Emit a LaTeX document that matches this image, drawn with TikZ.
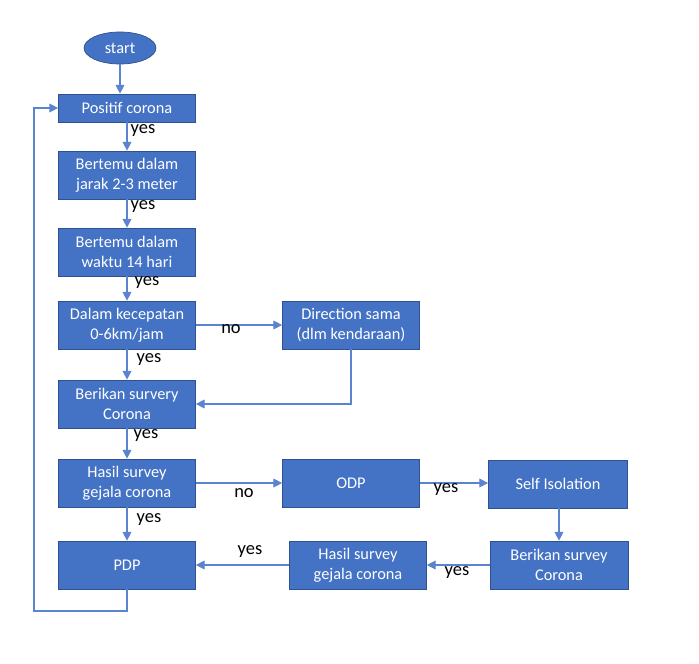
\documentclass[tikz,border=0pt]{standalone}
\usepackage{fontspec}
\setmainfont{Carlito}
\usetikzlibrary{arrows.meta, shapes.geometric}
\definecolor{boxblue}{HTML}{4472C4}
\definecolor{boxedge}{HTML}{2F528F}
\definecolor{lineblue}{HTML}{5B84D0}
\begin{document}
\begin{tikzpicture}[
                x = 0.02cm, y = -0.02cm,
                box/.style = {draw = boxedge, fill = boxblue, text = white, font = \fontsize{9.3}{11.3}\selectfont,
                              align = center, minimum width = 2.74cm, minimum height = 0.96cm, inner sep = 0mm},
                term/.style = {ellipse, draw = boxedge, fill = boxblue, text = white, font = \fontsize{9.3}{11}\selectfont,
                               minimum width = 1.44cm, minimum height = 0.64cm, inner sep = 0mm},
                lbl/.style = {font = \fontsize{10.5}{12}\selectfont, inner sep = 0mm},
                arr/.style = {draw = lineblue, semithick, -{Triangle[width = 5pt, length = 5pt]}},
            ]
            \path[use as bounding box, fill = white] (0, 0) rectangle (699, 663);

            \node (start) at (120, 48) [term] {start};
            \node (pos) at (127, 108) [box, minimum height = 0.56cm] {Positif corona};
            \node (jarak) at (127, 175) [box] {Bertemu dalam\\jarak 2-3 meter};
            \node (waktu) at (127, 252) [box] {Bertemu dalam\\waktu 14 hari};
            \node (cepat) at (127, 325) [box] {Dalam kecepatan\\0-6km/jam};
            \node (dir) at (351, 325) [box] {Direction sama\\(dlm kendaraan)};
            \node (surv1) at (127, 404) [box] {Berikan survery\\Corona};
            \node (hasil1) at (127, 483) [box] {Hasil survey\\gejala corona};
            \node (odp) at (351, 483) [box] {ODP};
            \node (iso) at (558, 484) [box, minimum width = 2.78cm] {Self Isolation};
            \node (surv2) at (559, 565) [box, minimum width = 2.76cm] {Berikan survey\\Corona};
            \node (hasil2) at (358, 565) [box] {Hasil survey\\gejala corona};
            \node (pdp) at (127, 565) [box] {PDP};

            \coordinate (loop) at (34, 611);

            \path[arr] (start) -- (start |- pos.north);
            \path[arr] (pos) -- (jarak);
            \path[arr] (jarak) -- (waktu);
            \path[arr] (waktu) -- (cepat);
            \path[arr] (cepat) -- (surv1);
            \path[arr] (cepat) -- (dir);
            \path[arr] (dir.south) |- (surv1.east);
            \path[arr] (surv1) -- (hasil1);
            \path[arr] (hasil1) -- (pdp);
            \path[arr] (hasil1) -- (odp);
            \path[arr] (odp) -- (iso.west |- odp);
            \path[arr] (iso.south -| surv2) -- (surv2);
            \path[arr] (surv2) -- (hasil2);
            \path[arr] (hasil2) -- (pdp);
            \path[arr] (pdp.south) |- (loop) |- (pos.west);

            \node (y1) at (143, 131) [lbl] {yes};
            \node (y2) at (143, 207) [lbl] {yes};
            \node (y3) at (147, 283) [lbl] {yes};
            \node (y4) at (149, 360) [lbl] {yes};
            \node (y5) at (146, 436) [lbl] {yes};
            \node (y6) at (149, 520) [lbl] {yes};
            \node (n1) at (231, 329) [lbl] {no};
            \node (n2) at (244, 493) [lbl] {no};
            \node (y7) at (446, 490) [lbl] {yes};
            \node (y8) at (457, 573) [lbl] {yes};
            \node (y9) at (250, 552) [lbl] {yes};
        \end{tikzpicture}
\end{document}
